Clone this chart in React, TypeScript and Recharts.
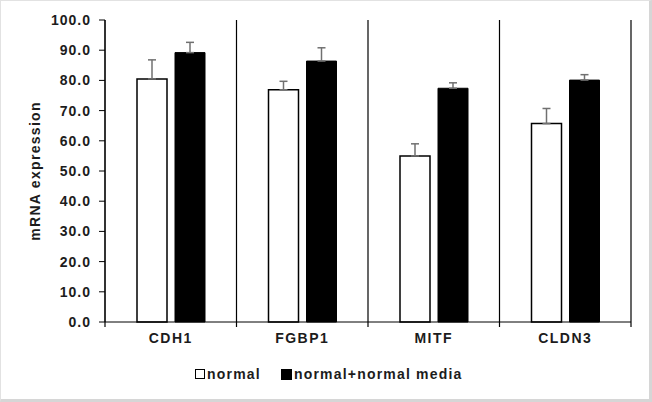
import React from 'react';
import { BarChart, Bar, XAxis, YAxis, CartesianGrid, ErrorBar } from 'recharts';

const categories = ['CDH1', 'FGBP1', 'MITF', 'CLDN3'];
const seriesNames = ['normal', 'normal+normal media'];
const normalValues = [80.5, 76.9, 55.0, 65.7];
const normalErrors = [6.3, 2.8, 4.0, 5.0];
const mediaValues = [89.2, 86.4, 77.4, 80.1];
const mediaErrors = [3.4, 4.4, 1.8, 1.8];
const yTicks = [0, 10, 20, 30, 40, 50, 60, 70, 80, 90, 100];

const FONT = '"Liberation Sans", Arial, sans-serif';
const INK = '#1c1c1c';

const data = categories.map((name, i) => ({
  name,
  normal: normalValues[i],
  // one-sided error bars (upper only)
  normalErr: [0, normalErrors[i]],
  media: mediaValues[i],
  mediaErr: [0, mediaErrors[i]],
}));

const YLabel = (props: any) => {
  const vb = props.viewBox || { x: 35, y: 20, height: 302 };
  const cx = vb.x;
  const cy = vb.y + vb.height / 2;
  return (
    <text
      x={cx}
      y={cy}
      transform={`rotate(-90 ${cx} ${cy})`}
      textAnchor="middle"
      dominantBaseline="central"
      fontFamily={FONT}
      fontWeight="bold"
      fontSize={14}
      letterSpacing={1.3}
      fill={INK}
    >
      mRNA expression
    </text>
  );
};

const ValueTick = (props: any) => {
  const { x, y, payload } = props;
  return (
    <text
      x={x + 1}
      y={y}
      dy="0.355em"
      textAnchor="end"
      fontFamily={FONT}
      fontWeight="bold"
      fontSize={14}
      letterSpacing={1}
      fill={INK}
    >
      {Number(payload.value).toFixed(1)}
    </text>
  );
};

// category label plus Excel-style tick marks on the band edges
const CategoryTick = (props: any) => {
  const { x, y, payload, index, visibleTicksCount, width } = props;
  const band = width / visibleTicksCount;
  const axisY = y - 11;
  return (
    <g>
      <line x1={x - band / 2} y1={axisY} x2={x - band / 2} y2={axisY + 5} stroke="#000" strokeWidth={1.2} />
      {index === visibleTicksCount - 1 && (
        <line x1={x + band / 2} y1={axisY} x2={x + band / 2} y2={axisY + 5} stroke="#000" strokeWidth={1.2} />
      )}
      <text
        x={x}
        y={y}
        dy="0.71em"
        textAnchor="middle"
        fontFamily={FONT}
        fontWeight="bold"
        fontSize={14}
        letterSpacing={1.5}
        fill={INK}
      >
        {payload.value}
      </text>
    </g>
  );
};

const App: React.FC = () => {
  return (
    <div style={{ position: 'absolute', left: 0, top: 0, width: 652, height: 402, background: '#fff' }}>
      <BarChart
        width={652}
        height={402}
        data={data}
        margin={{ top: 20, right: 21, bottom: 50, left: 35 }}
        barSize={30}
        barGap={8}
      >
        <CartesianGrid
          horizontal={false}
          stroke="#000"
          strokeWidth={1.2}
          verticalCoordinatesGenerator={({ offset }: any) =>
            [0, 1, 2, 3, 4].map((i) => offset.left + (i * offset.width) / categories.length)
          }
        />
        <XAxis
          dataKey="name"
          height={30}
          stroke="#000"
          tickLine={false}
          tickSize={0}
          tickMargin={11}
          tick={<CategoryTick />}
        />
        <YAxis
          width={70}
          domain={[0, 100]}
          ticks={yTicks}
          interval={0}
          stroke="#000"
          tickSize={6}
          tickMargin={9}
          tick={<ValueTick />}
          label={{ content: <YLabel /> }}
        />
        <Bar dataKey="normal" name={seriesNames[0]} fill="#fff" stroke="#000" strokeWidth={1.5} isAnimationActive={false}>
          <ErrorBar dataKey="normalErr" direction="y" width={4} stroke="#707070" strokeWidth={1.5} isAnimationActive={false} />
        </Bar>
        <Bar dataKey="media" name={seriesNames[1]} fill="#000" stroke="#000" strokeWidth={1} isAnimationActive={false}>
          <ErrorBar dataKey="mediaErr" direction="y" width={4} stroke="#707070" strokeWidth={1.5} isAnimationActive={false} />
        </Bar>
      </BarChart>
      <div
        style={{
          position: 'absolute',
          top: 366,
          left: 195,
          display: 'flex',
          alignItems: 'center',
          fontFamily: FONT,
          fontWeight: 'bold',
          fontSize: 14,
          letterSpacing: 1.2,
          color: INK,
          whiteSpace: 'nowrap',
        }}
      >
        <span style={{ width: 8, height: 8, border: '1px solid #000', background: '#fff', marginRight: 2 }} />
        <span style={{ marginRight: 20 }}>{seriesNames[0]}</span>
        <span style={{ width: 9, height: 9, border: '1px solid #000', background: '#000', marginRight: 2 }} />
        <span>{seriesNames[1]}</span>
      </div>
      <div
        style={{
          position: 'absolute',
          left: 0,
          top: 0,
          width: 652,
          height: 402,
          boxSizing: 'border-box',
          borderTop: '1px solid #e2e2e2',
          borderLeft: '1px solid #e2e2e2',
          borderRight: '3px solid #d6d6d6',
          borderBottom: '3px solid #d6d6d6',
          pointerEvents: 'none',
        }}
      />
    </div>
  );
};

export default App;
